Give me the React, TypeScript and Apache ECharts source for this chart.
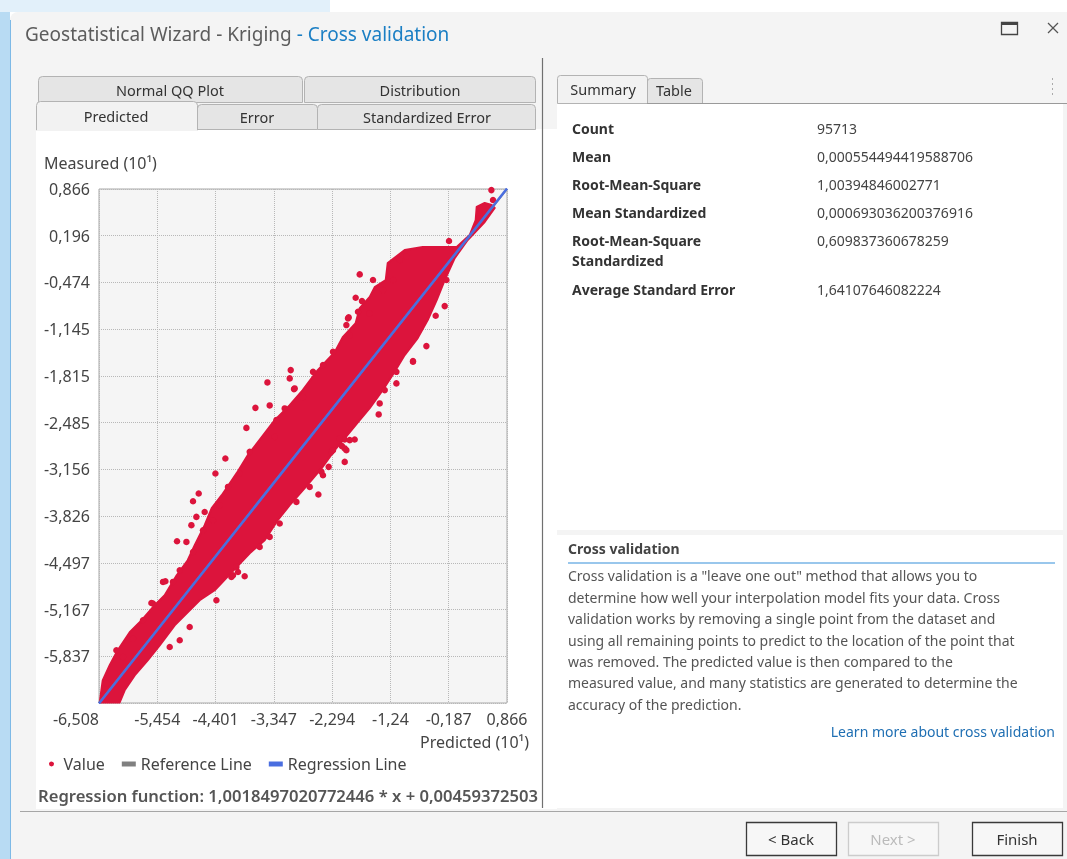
import React, { useEffect, useRef } from 'react';
import * as echarts from 'echarts';

// ---------- data ----------
const xTickValues = [-6.508, -5.454, -4.401, -3.347, -2.294, -1.24, -0.187, 0.866];
const yTickValues = [-6.508, -5.837, -5.167, -4.497, -3.826, -3.156, -2.485, -1.815, -1.145, -0.474, 0.196, 0.866];
const yLabelValues = [-5.837, -5.167, -4.497, -3.826, -3.156, -2.485, -1.815, -1.145, -0.474, 0.196, 0.866];

// dense point cloud outline [predicted, measured]
const cloudUpperEdge = [
  [-6.495, -6.5], [-6.441, -6.183], [-6.315, -5.967], [-6.17, -5.752], [-5.953, -5.493], [-5.736, -5.321],
  [-5.501, -5.106], [-5.321, -4.962], [-5.104, -4.675], [-4.905, -4.46], [-4.778, -4.245], [-4.598, -3.957],
  [-4.471, -3.713], [-4.29, -3.527], [-4.019, -3.211], [-3.82, -2.953], [-3.567, -2.694], [-3.332, -2.45],
  [-3.061, -2.235], [-2.826, -2.019], [-2.555, -1.732], [-2.248, -1.474], [-2.103, -1.259], [-1.869, -1.058],
  [-1.796, -0.842], [-1.615, -0.684], [-1.525, -0.541], [-1.326, -0.44], [-1.29, -0.196], [-0.983, -0.01],
  [-0.658, 0.033], [-0.043, 0.033], [0.192, 0.206], [0.3, 0.421], [0.318, 0.608], [0.463, 0.665], [0.589, 0.636],
];
const cloudLowerEdge = [
  [0.644, 0.593], [0.463, 0.392], [0.156, 0.134], [-0.079, -0.125], [-0.26, -0.44], [-0.405, -0.727],
  [-0.567, -1.015], [-0.748, -1.273], [-0.983, -1.517], [-1.146, -1.732], [-1.381, -2.019], [-1.615, -2.278],
  [-1.796, -2.45], [-2.049, -2.694], [-2.248, -2.881], [-2.483, -3.139], [-2.79, -3.426], [-3.061, -3.67],
  [-3.278, -3.886], [-3.513, -4.173], [-3.784, -4.359], [-4.11, -4.632], [-4.417, -4.891], [-4.688, -5.034],
  [-4.905, -5.206], [-5.14, -5.393], [-5.411, -5.68], [-5.628, -5.895], [-5.863, -6.111], [-6.044, -6.326],
  [-6.134, -6.5],
];
// isolated points away from the cloud
const outlierPoints = [
  [0.584, 0.85], [0.613, 0.708], [-0.182, 0.12], [-1.796, -0.359], [-1.869, -0.694], [-1.755, -0.742],
  [-1.995, -0.976], [-0.26, -0.814], [-0.423, -0.953], [-0.591, -1.388], [-0.833, -1.603], [-1.133, -1.923],
  [-1.453, -2.368], [-3.043, -1.732], [-3.464, -1.909], [-2.984, -2.005], [-3.681, -2.274], [-3.423, -2.239],
  [-3.844, -2.561], [-4.224, -3.0], [-2.067, -2.727], [-1.887, -2.727], [-2.116, -2.823], [-4.404, -3.215],
  [-4.809, -3.613], [-4.706, -3.502], [-5.098, -4.187], [-5.308, -4.761], [-5.532, -5.081], [-3.875, -4.69],
  [-4.086, -4.675], [-2.543, -3.517], [-2.357, -3.12], [-2.067, -3.049], [-5.049, -5.608], [-4.838, -3.957],
  [-2.46, -3.24], [-3.996, -4.628], [-2.037, -2.881],
];
// fringe points along the edges of the cloud
const fringePoints = [
  [-2.008, -0.99], [-1.827, -0.895], [-2.037, -1.086], [-1.977, -1.23], [-2.279, -1.47], [-2.46, -1.661],
  [-2.64, -1.757], [-3.061, -1.851], [-2.971, -1.995], [-2.821, -2.116], [-3.152, -2.282], [-3.302, -2.45],
  [-3.332, -2.69], [-0.833, -1.613], [-1.133, -1.757], [-1.344, -2.019], [-1.435, -2.21], [-1.977, -2.737],
  [-2.158, -2.713], [-2.067, -2.856], [-2.308, -2.905], [-3.784, -2.905], [-3.965, -3.215], [-4.177, -3.408],
  [-4.327, -3.67], [-4.598, -3.767], [-4.748, -3.838], [-4.448, -3.886], [-4.628, -4.029], [-4.928, -4.197],
  [-4.809, -4.341], [-5.049, -4.603], [-5.171, -4.771], [-2.7, -3.408], [-2.94, -3.623], [-3.242, -3.933],
  [-3.423, -4.125], [-3.604, -4.269], [-4.115, -4.7], [-4.025, -4.556], [-2.279, -2.881], [-2.488, -3.192],
  [-6.074, -5.848], [-6.194, -5.752], [-5.894, -5.584], [-5.713, -5.321], [-5.561, -5.073], [-5.351, -4.771],
  [-6.374, -6.23], [-5.23, -5.704], [-4.869, -5.417], [-4.386, -5.034], [-0.952, -0.106], [-1.073, -0.153],
  [-1.194, -0.44], [-1.375, -0.584], [-1.556, -0.44], [-1.615, -0.918], [-0.229, -0.44],
];
const referenceLine = [[-6.508, -6.508], [0.866, 0.866]];
const regressionLine = [[-6.508, -6.5154], [0.866, 0.8722]];

const summaryLabels = ['Count', 'Mean', 'Root-Mean-Square', 'Mean Standardized', 'Root-Mean-Square\nStandardized', 'Average Standard Error'];
const summaryValues = ['95713', '0,000554494419588706', '1,00394846002771', '0,000693036200376916', '0,609837360678259', '1,64107646082224'];

const helpLines = [
  'Cross validation is a "leave one out" method that allows you to',
  'determine how well your interpolation model fits your data. Cross',
  'validation works by removing a single point from the dataset and',
  'using all remaining points to predict to the location of the point that',
  'was removed. The predicted value is then compared to the',
  'measured value, and many statistics are generated to determine the',
  'accuracy of the prediction.',
];

// ---------- style ----------
const FONT = '"Noto Sans", "Open Sans", sans-serif';
const RED = '#dc143c';
const BLUE = '#4a6ee0';
const GREY_LINE = '#808080';

const fmt = (v: number) => String(v).replace('.', ',');

function txt(text: string, x: number, y: number, o: any = {}) {
  const style: any = {
    text,
    fill: o.fill || '#444',
    fontSize: o.size || 14,
    fontFamily: FONT,
    fontWeight: o.weight || 'normal',
    align: o.align || 'left',
    verticalAlign: o.va || 'middle',
  };
  if (o.lh) style.lineHeight = o.lh;
  if (o.width) { style.width = o.width; style.overflow = 'truncate'; style.ellipsis = ''; }
  if (o.rich) style.rich = o.rich;
  return { type: 'text', x, y, z: 100, silent: true, style };
}
function box(x: number, y: number, w: number, h: number, fill: string, stroke?: string, r?: any, z = -50, lw = 1) {
  return {
    type: 'rect', z, silent: true,
    shape: { x, y, width: w, height: h, r: r || 0 },
    style: { fill, stroke: stroke || 'none', lineWidth: lw },
  };
}
function ln(x1: number, y1: number, x2: number, y2: number, stroke: string, lw = 1, z = 50, dash?: number[]) {
  const style: any = { stroke, lineWidth: lw };
  if (dash) style.lineDash = dash;
  return { type: 'line', z, silent: true, shape: { x1, y1, x2, y2 }, style };
}

function buildGraphic() {
  const g: any[] = [];
  // page / window
  g.push(box(0, 0, 1067, 859, '#ffffff', undefined, 0, -100));
  g.push(box(0, 0, 330, 12, '#e2f0fa', undefined, 0, -99));
  g.push(box(0, 12, 10, 847, '#b8dbf3', undefined, 0, -99));
  g.push(box(10, 12, 1057, 847, '#f4f4f4', undefined, [8, 0, 0, 0], -98));
  g.push(ln(10.5, 20, 10.5, 859, '#7db9e6', 1, -97));
  // title
  g.push(txt('{a|Geostatistical Wizard - Kriging }{b|- Cross validation}', 25, 34, {
    size: 19,
    rich: {
      a: { fill: '#5c5c5c', fontSize: 19, fontFamily: FONT },
      b: { fill: '#1b7fc4', fontSize: 19, fontFamily: FONT },
    },
  }));
  // window buttons
  g.push({ type: 'rect', z: 60, silent: true, shape: { x: 1001.5, y: 22.5, width: 16, height: 12 }, style: { fill: 'none', stroke: '#444', lineWidth: 1.3 } });
  g.push(ln(1001.5, 24, 1017.5, 24, '#444', 2, 60));
  g.push(ln(1048, 23, 1058, 33, '#555', 1.3, 60));
  g.push(ln(1058, 23, 1048, 33, '#555', 1.3, 60));

  // left panel
  g.push(box(36, 129, 521, 680, '#ffffff', undefined, 0, -90));
  // left tabs row 1 (back)
  g.push(box(38.5, 76.5, 264, 26, '#e5e5e5', '#b3b3b3', [4, 4, 0, 0], -80));
  g.push(box(304.5, 76.5, 231, 26, '#e5e5e5', '#b3b3b3', [4, 4, 0, 0], -80));
  g.push(txt('Normal QQ Plot', 170, 90, { size: 14.5, fill: '#333', align: 'center' }));
  g.push(txt('Distribution', 420, 90, { size: 14.5, fill: '#333', align: 'center' }));
  // row 2 (front)
  g.push(box(197.5, 104.5, 120, 25, '#e5e5e5', '#b3b3b3', [4, 4, 0, 0], -79));
  g.push(box(317.5, 104.5, 218, 25, '#e5e5e5', '#b3b3b3', [4, 4, 0, 0], -79));
  g.push(box(36.5, 101.5, 161, 28.5, '#f2f2f2', '#b3b3b3', [4, 4, 0, 0], -78));
  g.push(box(37, 128, 160, 3, '#f2f2f2', undefined, 0, -77));
  g.push(txt('Predicted', 116, 116, { size: 14.5, fill: '#333', align: 'center' }));
  g.push(txt('Error', 257, 117, { size: 14.5, fill: '#333', align: 'center' }));
  g.push(txt('Standardized Error', 427, 117, { size: 14.5, fill: '#333', align: 'center' }));

  // chart texts
  g.push(txt('Measured (10\u00b9)', 44, 163, { size: 16, fill: '#444' }));
  g.push(txt('Predicted (10\u00b9)', 529, 742, { size: 16, fill: '#444', align: 'right' }));
  g.push(txt('Regression function: 1,0018497020772446 * x + 0,004593725032', 38, 795, {
    size: 16.6, fill: '#555', weight: 600, width: 503,
  }));

  // divider
  g.push(ln(542.5, 58, 542.5, 808, '#707070', 1.2, 40));

  // right panel tabs
  g.push(box(647.5, 78.5, 55, 25, '#e5e5e5', '#b3b3b3', [3, 3, 0, 0], -80));
  g.push(box(557.5, 75.5, 90, 28, '#f2f2f2', '#b3b3b3', [3, 3, 0, 0], -79));
  g.push(txt('Summary', 603, 89, { size: 14.5, fill: '#333', align: 'center' }));
  g.push(txt('Table', 674, 90, { size: 14.5, fill: '#333', align: 'center' }));
  g.push(ln(647, 103.5, 1067, 103.5, '#9a9a9a', 1, 40));
  g.push(ln(1052.5, 78, 1052.5, 96, '#aaaaaa', 1, 40, [2, 3]));
  // summary
  g.push(box(557, 104, 506, 426, '#ffffff', undefined, 0, -90));
  const ys = [128, 156, 184, 212, 240, 289];
  summaryLabels.forEach((s, i) => {
    g.push(txt(s, 572, ys[i] - 10, { size: 14, weight: 'bold', fill: '#333', va: 'top', lh: 20 }));
    g.push(txt(summaryValues[i], 817, ys[i] - 10, { size: 14, fill: '#444', va: 'top', lh: 20 }));
  });
  // help section
  g.push(box(557, 535, 506, 273, '#ffffff', undefined, 0, -90));
  g.push(txt('Cross validation', 568, 548, { size: 14, weight: 'bold', fill: '#444' }));
  g.push(ln(568, 563, 1055, 563, '#77b5e6', 1.3, 40));
  g.push(txt(helpLines.join('\n'), 568, 565.3, { size: 14, fill: '#555', va: 'top', lh: 21.35 }));
  g.push(txt('Learn more about cross validation', 1055, 731, { size: 14, fill: '#1f6fb3', align: 'right' }));

  // bottom bar
  g.push(ln(20, 811.5, 1067, 811.5, '#a6a6a6', 1, 40));
  g.push(box(746.5, 822.5, 90, 33, '#f7f7f7', '#3a3a3a', 0, -60, 1.3));
  g.push(box(848.5, 822.5, 90, 33, '#f7f7f7', '#cccccc', 0, -60, 1.3));
  g.push(box(972.5, 822.5, 90, 33, '#f7f7f7', '#3a3a3a', 0, -60, 1.3));
  g.push(txt('< Back', 791, 839, { size: 15, fill: '#333', align: 'center' }));
  g.push(txt('Next >', 893, 839, { size: 15, fill: '#bbbbbb', align: 'center' }));
  g.push(txt('Finish', 1017, 839, { size: 15, fill: '#333', align: 'center' }));
  return g;
}

export default function App() {
  const ref = useRef<HTMLDivElement>(null);
  useEffect(() => {
    if (!ref.current) return;
    const chart = echarts.init(ref.current, undefined, { renderer: 'svg' });
    const cloudPolygon = cloudUpperEdge.concat(cloudLowerEdge);
    const axisLabelBase = { color: '#444', fontSize: 16, fontFamily: FONT, formatter: (v: number) => fmt(v) };
    chart.setOption({
      animation: false,
      textStyle: { fontFamily: FONT },
      graphic: { elements: buildGraphic() },
      grid: {
        left: 99, top: 189, width: 408, height: 514,
        show: true, backgroundColor: '#f5f5f5', borderColor: '#a9a9a9', borderWidth: 1,
      },
      legend: {
        left: 44, top: 751, itemWidth: 14, itemHeight: 5, itemGap: 17, selectedMode: false,
        textStyle: { color: '#444', fontSize: 16, fontFamily: FONT },
        data: [
          { name: 'Value', icon: 'path://M0,5a5,5 0 1,0 10,0a5,5 0 1,0 -10,0z', itemStyle: { color: RED } },
          { name: 'Reference Line', icon: 'rect', itemStyle: { color: GREY_LINE } },
          { name: 'Regression Line', icon: 'rect', itemStyle: { color: BLUE } },
        ],
      },
      xAxis: {
        type: 'value', min: -6.508, max: 0.866,
        axisLine: { show: false },
        axisTick: { show: false, customValues: xTickValues },
        axisLabel: { ...axisLabelBase, customValues: xTickValues, margin: 8, alignMinLabel: 'right' },
        splitLine: { show: true, lineStyle: { type: 'dotted', color: '#b8b8b8', width: 1 } },
      },
      yAxis: {
        type: 'value', min: -6.508, max: 0.866,
        axisLine: { show: false },
        axisTick: { show: false, customValues: yTickValues },
        axisLabel: { ...axisLabelBase, customValues: yLabelValues, margin: 9 },
        splitLine: { show: true, lineStyle: { type: 'dotted', color: '#b8b8b8', width: 1 } },
      },
      series: [
        {
          name: 'Value', type: 'custom', z: 2,
          itemStyle: { color: RED },
          encode: { x: 0, y: 1 },
          data: cloudPolygon,
          renderItem: (params: any, api: any) => {
            if (params.dataIndex !== 0) return null;
            const pts = cloudPolygon.map((p) => api.coord(p));
            return {
              type: 'polygon',
              shape: { points: pts },
              style: { fill: RED, stroke: RED, lineWidth: 2, lineJoin: 'round' },
            };
          },
        },
        {
          name: 'Value', type: 'scatter', z: 3, symbol: 'circle', symbolSize: 6.5,
          itemStyle: { color: RED, opacity: 1 }, data: outlierPoints.concat(fringePoints),
        },
        {
          name: 'Reference Line', type: 'line', z: 4, symbol: 'none',
          lineStyle: { color: GREY_LINE, width: 2 }, itemStyle: { color: GREY_LINE },
          data: referenceLine,
        },
        {
          name: 'Regression Line', type: 'line', z: 5, symbol: 'none',
          lineStyle: { color: BLUE, width: 2.5 }, itemStyle: { color: BLUE },
          data: regressionLine,
        },
      ],
    });
    return () => chart.dispose();
  }, []);
  return <div ref={ref} style={{ position: 'fixed', left: 0, top: 0, width: 1067, height: 859 }} />;
}
